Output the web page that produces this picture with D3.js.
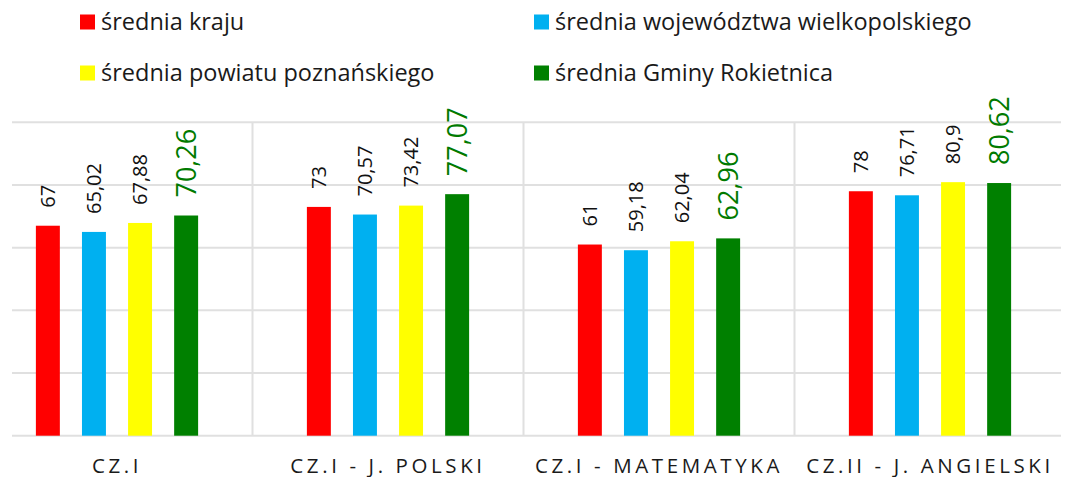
<!DOCTYPE html>
<html>
<head>
<meta charset="utf-8">
<script src="https://cdn.jsdelivr.net/npm/d3@7"></script>
<style>
  body { margin: 0; background: #fff; }
  svg { display: block; font-family: "Open Sans", sans-serif; }
</style>
</head>
<body>
<div id="chart"></div>
<script>
// data
var categories = ["CZ.I", "CZ.I - J. POLSKI", "CZ.I - MATEMATYKA", "CZ.II - J. ANGIELSKI"];
var seriesNames = ["średnia kraju", "średnia województwa wielkopolskiego", "średnia powiatu poznańskiego", "średnia Gminy Rokietnica"];
var seriesColors = ["#ff0000", "#00b0f0", "#ffff00", "#008000"];
var kraj = [67, 73, 61, 78];
var wojewodztwo = [65.02, 70.57, 59.18, 76.71];
var powiat = [67.88, 73.42, 62.04, 80.9];
var gmina = [70.26, 77.07, 62.96, 80.62];
var yTicks = [0, 20, 40, 60, 80, 100];

var allSeries = [kraj, wojewodztwo, powiat, gmina];

var width = 1067, height = 477;
var gridLeft = 12, gridRight = 1061;

var svg = d3.select("#chart").append("svg")
    .attr("width", width)
    .attr("height", height);

var y = d3.scaleLinear().domain([0, 100]).range([435.7, 122.3]);

// the plot is cut on the left, first band starts off-screen
var x0 = d3.scaleBand().domain(categories).range([-18.5, 1065.5]).padding(0);
var x1 = d3.scaleBand().domain(d3.range(4))
    .range([0, x0.bandwidth()])
    .paddingInner(0.48)
    .paddingOuter(1.18);

// grid
svg.append("g").selectAll("line")
    .data(yTicks)
    .enter().append("line")
    .attr("x1", gridLeft)
    .attr("x2", gridRight)
    .attr("y1", function(d) { return y(d); })
    .attr("y2", function(d) { return y(d); })
    .attr("stroke", "#e0e0e0")
    .attr("stroke-width", 2);

svg.append("g").selectAll("line")
    .data(categories.slice(1))
    .enter().append("line")
    .attr("x1", function(d) { return x0(d); })
    .attr("x2", function(d) { return x0(d); })
    .attr("y1", y(100))
    .attr("y2", y(0))
    .attr("stroke", "#e0e0e0")
    .attr("stroke-width", 2);

// bars
var groups = svg.append("g").selectAll("g")
    .data(categories)
    .enter().append("g")
    .attr("transform", function(d) { return "translate(" + x0(d) + ",0)"; });

groups.selectAll("rect")
    .data(function(d, ci) { return allSeries.map(function(s, si) { return {s: si, v: s[ci]}; }); })
    .enter().append("rect")
    .attr("x", function(d) { return x1(d.s); })
    .attr("width", x1.bandwidth())
    .attr("y", function(d) { return y(d.v); })
    .attr("height", function(d) { return y(0) - y(d.v); })
    .attr("fill", function(d) { return seriesColors[d.s]; });

var fmt = function(v) { return String(v).replace(".", ","); };

groups.selectAll("text.val")
    .data(function(d, ci) { return allSeries.map(function(s, si) { return {s: si, v: s[ci]}; }); })
    .enter().append("text")
    .attr("class", "val")
    .attr("transform", function(d) {
        return "translate(" + (x1(d.s) + x1.bandwidth() / 2) + "," + (y(d.v) - 18) + ") rotate(-90)";
    })
    .attr("dy", "0.35em")
    .attr("font-size", function(d) { return d.s === 3 ? 27 : 20; })
    .attr("fill", function(d) { return d.s === 3 ? "#007a00" : "#111"; })
    .text(function(d) { return fmt(d.v); });

// category labels
svg.append("g").selectAll("text")
    .data(categories)
    .enter().append("text")
    .attr("x", function(d) { return x0(d) + x0.bandwidth() / 2; })
    .attr("y", 473)
    .attr("text-anchor", "middle")
    .attr("font-size", 20.5)
    .attr("letter-spacing", "3.6px")
    .attr("fill", "#1a1a1a")
    .text(function(d) { return d; });

// legend
var legendPos = [[80, 22], [534, 22], [80, 73], [534, 73]];
var legend = svg.append("g").selectAll("g")
    .data(seriesNames)
    .enter().append("g")
    .attr("transform", function(d, i) { return "translate(" + legendPos[i][0] + "," + legendPos[i][1] + ")"; });

legend.append("rect")
    .attr("x", 0)
    .attr("y", -7.5)
    .attr("width", 15)
    .attr("height", 15)
    .attr("fill", function(d, i) { return seriesColors[i]; });

legend.append("text")
    .attr("x", 21)
    .attr("dy", "0.35em")
    .attr("font-size", 23.5)
    .attr("fill", "#1a1a1a")
    .text(function(d) { return d; });
</script>
</body>
</html>
